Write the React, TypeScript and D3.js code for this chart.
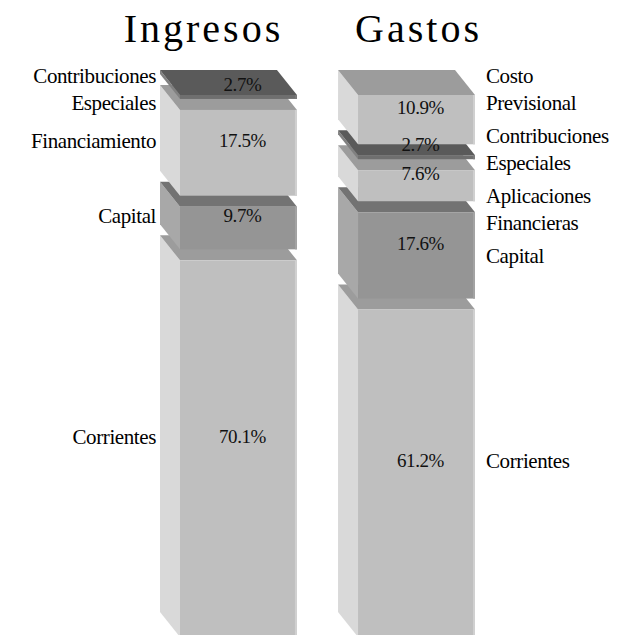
import React, { useEffect, useRef } from 'react'
import * as d3 from 'd3'

// columns and their stacked shares (bottom segment first)
const columns = ['Ingresos', 'Gastos']
const ingresosCategories = ['Corrientes', 'Capital', 'Financiamiento', 'Contribuciones Especiales']
const ingresosValues = [70.1, 9.7, 17.5, 2.7]
const gastosCategories = ['Corrientes', 'Capital', 'Aplicaciones Financieras', 'Contribuciones Especiales', 'Costo Previsional']
const gastosValues = [61.2, 17.6, 7.6, 2.7, 10.9]

const light = { front: '#bfbfbf', side: '#d9d9d9', top: '#9c9c9c', edge: '#d0d0d0' }
const medium = { front: '#959595', side: '#a8a8a8', top: '#737373', edge: '#a3a3a3' }
const dark = { front: '#6f6f6f', side: '#808080', top: '#5a5a5a', edge: '#7b7b7b' }

const shadeOf = (cat: string) => {
  if (cat === 'Capital') return medium
  if (cat === 'Contribuciones Especiales') return dark
  return light
}

const serif = "'Liberation Serif', 'Times New Roman', serif"

export default function App() {
  const svgRef = useRef<SVGSVGElement>(null)

  useEffect(() => {
    const svg = d3.select(svgRef.current)
    svg.selectAll('*').remove()

    const dx = 20, dy = 25, gap = 11
    const x = d3.scaleBand<string>().domain(columns).range([160, 455]).paddingInner(0.343).paddingOuter(0)
    const y = d3.scaleLinear().domain([0, 100]).range([612 + gap, 70])
    const bw = x.bandwidth()

    const series = [
      { name: 'Ingresos', cats: ingresosCategories, vals: ingresosValues, side: 'left', titleNudge: -25 },
      { name: 'Gastos', cats: gastosCategories, vals: gastosValues, side: 'right', titleNudge: 12 },
    ]

    series.forEach(s => {
      const row: any = {}
      s.cats.forEach((c, i) => { row[c] = s.vals[i] })
      const stacked = d3.stack<any>().keys(s.cats)([row])
      const x0 = x(s.name) as number
      const x1 = x0 + bw
      const g = svg.append('g')

      const labels: any[] = []

      // bottom first so upper boxes cover the lower top faces
      stacked.forEach((layer, i) => {
        const [lo, hi] = layer[0]
        const col = shadeOf(s.cats[i])
        const yt = y(hi)
        const yb = y(lo) - gap

        g.append('path')
          .attr('d', d3.line()([[x0, yt], [x0 + dx, yt + dy], [x0 + dx, yb + dy], [x0, yb]]) + 'Z')
          .attr('fill', col.side)
        g.append('path')
          .attr('d', d3.line()([[x0, yt], [x1, yt], [x1 + dx, yt + dy], [x0 + dx, yt + dy]]) + 'Z')
          .attr('fill', col.top)
        g.append('rect')
          .attr('x', x0 + dx).attr('y', yt + dy)
          .attr('width', bw).attr('height', Math.max(0, yb - yt))
          .attr('fill', col.front)
        g.append('rect')
          .attr('x', x1 + dx - 2).attr('y', yt + dy)
          .attr('width', 2).attr('height', Math.max(0, yb - yt))
          .attr('fill', col.edge)

        const mid = (yt + yb + dy) / 2
        labels.push({ lines: s.cats[i].split(' '), c: mid, pct: d3.format('.1f')(s.vals[i]) + '%', pc: mid })
      })

      // percentages
      labels.forEach(l => {
        g.append('text')
          .attr('x', x0 + dx + bw / 2 + 4)
          .attr('y', l.pc)
          .attr('dy', '0.35em')
          .attr('text-anchor', 'middle')
          .attr('font-family', serif)
          .attr('font-size', 19)
          .attr('letter-spacing', -0.4)
          .attr('fill', '#111')
          .text(l.pct)
      })

      // spread category labels so they don't collide
      const lh = 27
      const pad = 6
      const sorted = labels.slice().sort((a, b) => a.c - b.c)
      for (let k = 0; k < 80; k++) {
        for (let j = 1; j < sorted.length; j++) {
          const a = sorted[j - 1], b = sorted[j]
          const need = (a.lines.length * lh) / 2 + (b.lines.length * lh) / 2 + pad
          const d = b.c - a.c
          if (d < need) {
            const push = (need - d) / 2
            a.c -= push
            b.c += push
          }
        }
        const first = sorted[0]
        const minC = 62 + (first.lines.length * lh) / 2
        if (first.c < minC) first.c = minC
      }

      const left = s.side === 'left'
      labels.forEach(l => {
        const t = g.append('text')
          .attr('text-anchor', left ? 'end' : 'start')
          .attr('font-family', serif)
          .attr('font-size', 21)
          .attr('letter-spacing', -0.4)
          .attr('fill', '#000')
        l.lines.forEach((ln: string, j: number) => {
          t.append('tspan')
            .attr('x', left ? x0 - 4 : x1 + dx + 11)
            .attr('y', l.c + (j - (l.lines.length - 1) / 2) * lh)
            .attr('dy', '0.35em')
            .text(ln)
        })
      })

      // column title
      svg.append('text')
        .attr('x', x0 + dx / 2 + bw / 2 + s.titleNudge)
        .attr('y', 42)
        .attr('text-anchor', 'middle')
        .attr('font-family', serif)
        .attr('font-size', 40)
        .attr('letter-spacing', 3)
        .attr('fill', '#000')
        .text(s.name)
    })
  }, [])

  return (
    <svg
      ref={svgRef}
      width={626}
      height={635}
      style={{ position: 'absolute', left: 0, top: 0, background: '#fff' }}
    />
  )
}
